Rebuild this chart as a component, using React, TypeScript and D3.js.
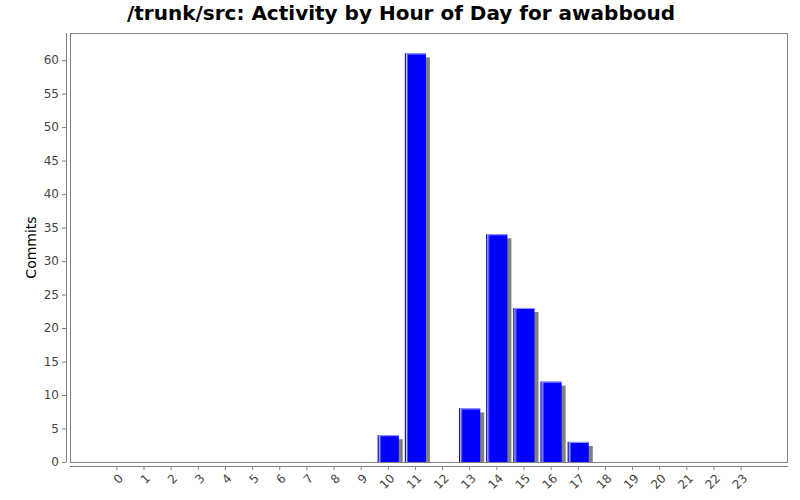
import React, { useEffect, useRef } from 'react';
import * as d3 from 'd3';

const hours = ['0', '1', '2', '3', '4', '5', '6', '7', '8', '9', '10', '11', '12', '13', '14', '15', '16', '17', '18', '19', '20', '21', '22', '23'];
const commits = [0, 0, 0, 0, 0, 0, 0, 0, 0, 0, 4, 61, 0, 8, 34, 23, 12, 3, 0, 0, 0, 0, 0, 0];
const yTicks = [0, 5, 10, 15, 20, 25, 30, 35, 40, 45, 50, 55, 60];

const title = '/trunk/src: Activity by Hour of Day for awabboud';
const yLabel = 'Commits';

const App: React.FC = () => {
  const ref = useRef<SVGSVGElement>(null);

  useEffect(() => {
    if (!ref.current) return;
    const svg = d3.select(ref.current);
    svg.selectAll('*').remove();

    const plot = { left: 70, right: 788, top: 33, bottom: 462 };
    const font = "'DejaVu Sans', sans-serif";

    svg.append('rect').attr('width', 800).attr('height', 500).attr('fill', '#fff');

    const x = d3.scaleBand<string>()
      .domain(hours)
      .range([plot.left, plot.right])
      .paddingInner(0.226)
      .paddingOuter(1.34);

    const y = d3.scaleLinear()
      .domain([0, (d3.max(commits) || 0) * 1.05])
      .range([plot.bottom, plot.top]);

    // title
    svg.append('text')
      .attr('x', 401)
      .attr('y', 20)
      .attr('text-anchor', 'middle')
      .attr('font-family', font)
      .attr('font-weight', 'bold')
      .attr('font-size', '20px')
      .attr('fill', '#000')
      .text(title);

    // plot border
    svg.append('rect')
      .attr('x', plot.left + 0.5)
      .attr('y', plot.top + 0.5)
      .attr('width', plot.right - plot.left - 1)
      .attr('height', plot.bottom - plot.top)
      .attr('fill', 'none')
      .attr('stroke', '#808080');

    // bars
    const bars = svg.append('g');
    hours.forEach((h, i) => {
      const v = commits[i];
      if (!v) return;
      const bx = x(h)!;
      const bw = x.bandwidth();
      const top = y(v);
      const bh = plot.bottom - top;
      // shadow
      bars.append('rect')
        .attr('x', bx + 4)
        .attr('y', top + 4)
        .attr('width', bw)
        .attr('height', bh - 4)
        .attr('fill', '#808080');
      bars.append('rect')
        .attr('x', bx)
        .attr('y', top)
        .attr('width', bw)
        .attr('height', bh)
        .attr('fill', '#0000ff');
      // highlights
      bars.append('rect')
        .attr('x', bx)
        .attr('y', top)
        .attr('width', 1)
        .attr('height', bh)
        .attr('fill', '#0000c0');
      bars.append('rect')
        .attr('x', bx + 1)
        .attr('y', top)
        .attr('width', 1)
        .attr('height', bh)
        .attr('fill', '#e0e0ff');
      bars.append('rect')
        .attr('x', bx + 2)
        .attr('y', top)
        .attr('width', 1)
        .attr('height', bh)
        .attr('fill', '#6060ff');
      bars.append('rect')
        .attr('x', bx + 1)
        .attr('y', top)
        .attr('width', bw - 1)
        .attr('height', 1)
        .attr('fill', '#a0a0ff');
    });

    // y axis
    const yAxis = svg.append('g')
      .attr('transform', `translate(66,0)`)
      .call(d3.axisLeft(y).tickValues(yTicks).tickSize(4).tickPadding(3));
    yAxis.select('.domain').attr('stroke', '#808080').attr('d', `M0.5,${plot.top}V${plot.bottom}`);
    yAxis.selectAll('.tick line').attr('stroke', '#808080');
    yAxis.selectAll('text')
      .attr('fill', '#444')
      .attr('font-family', font)
      .attr('font-size', '12px');

    // x axis
    const xAxis = svg.append('g')
      .attr('transform', `translate(0,466)`)
      .call(d3.axisBottom(x).tickSize(4).tickSizeOuter(0));
    xAxis.select('.domain').attr('stroke', '#808080').attr('d', `M${plot.left},0.5H${plot.right}`);
    xAxis.selectAll('.tick line').attr('stroke', '#808080');
    xAxis.selectAll('text')
      .attr('fill', '#444')
      .attr('font-family', font)
      .attr('font-size', '12px')
      .attr('dy', null)
      .attr('y', 0)
      .attr('text-anchor', 'end')
      .attr('transform', 'translate(7,13) rotate(-45)');

    // y label
    svg.append('text')
      .attr('transform', `translate(36,${(plot.top + plot.bottom) / 2}) rotate(-90)`)
      .attr('text-anchor', 'middle')
      .attr('font-family', font)
      .attr('font-size', '14px')
      .attr('fill', '#000')
      .text(yLabel);
  }, []);

  return (
    <svg
      ref={ref}
      width={800}
      height={500}
      style={{ display: 'block', position: 'absolute', left: 0, top: 0 }}
    />
  );
};

export default App;
